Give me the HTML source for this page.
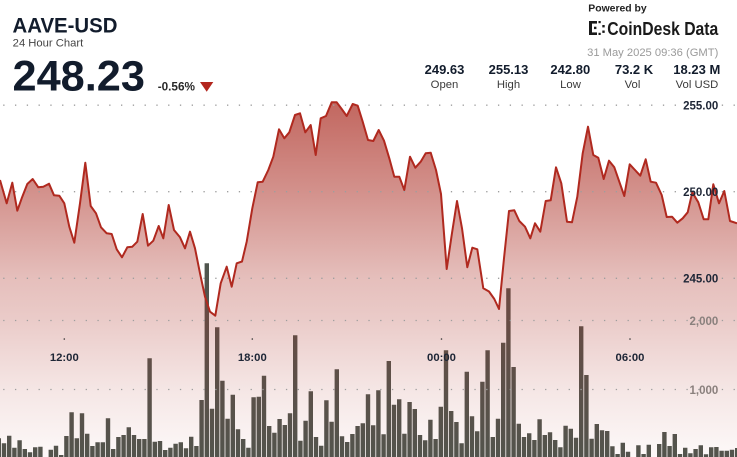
<!DOCTYPE html>
<html><head><meta charset="utf-8"><style>
html,body{margin:0;padding:0;background:#fff;width:737px;height:457px;overflow:hidden;}
svg{display:block;font-family:"Liberation Sans",Arial,sans-serif;}
</style></head><body>
<svg width="737" height="457" viewBox="0 0 737 457" xmlns="http://www.w3.org/2000/svg">
<defs>
<linearGradient id="fg" gradientUnits="userSpaceOnUse" x1="0" y1="100" x2="0" y2="457">
<stop offset="0" stop-color="rgb(172,48,38)" stop-opacity="0.74"/>
<stop offset="0.258" stop-color="rgb(172,48,38)" stop-opacity="0.53"/>
<stop offset="0.5" stop-color="rgb(172,48,38)" stop-opacity="0.31"/>
<stop offset="0.616" stop-color="rgb(172,48,38)" stop-opacity="0.25"/>
<stop offset="0.812" stop-color="rgb(172,48,38)" stop-opacity="0.12"/>
<stop offset="1" stop-color="rgb(172,48,38)" stop-opacity="0.03"/>
</linearGradient>
</defs>
<rect width="737" height="457" fill="#fff"/>

<path fill="#50554e" d="M0 438.3h1V457h-1z M1.8 443.3h4.4V457h-4.4z M7 435.7h4.4V457h-4.4z M12.2 447.7h4.4V457h-4.4z M17.4 440.3h4.4V457h-4.4z M22.6 449h4.4V457h-4.4z M27.8 452.3h4.4V457h-4.4z M33 447.3h4.4V457h-4.4z M38.2 446.7h4.4V457h-4.4z M48.6 449.7h4.4V457h-4.4z M53.8 445.7h4.4V457h-4.4z M59 455h4.4V457h-4.4z M64.2 436h4.4V457h-4.4z M69.4 412.3h4.4V457h-4.4z M74.6 438.3h4.4V457h-4.4z M79.8 413.3h4.4V457h-4.4z M85 433.7h4.4V457h-4.4z M90.2 446h4.4V457h-4.4z M95.4 442.3h4.4V457h-4.4z M100.6 442.3h4.4V457h-4.4z M105.8 418.3h4.4V457h-4.4z M111 449h4.4V457h-4.4z M116.2 437h4.4V457h-4.4z M121.4 435h4.4V457h-4.4z M126.6 427.3h4.4V457h-4.4z M131.8 435h4.4V457h-4.4z M137 439h4.4V457h-4.4z M142.2 439h4.4V457h-4.4z M147.4 358.3h4.4V457h-4.4z M152.6 441.7h4.4V457h-4.4z M157.8 441h4.4V457h-4.4z M163 450h4.4V457h-4.4z M168.2 447.7h4.4V457h-4.4z M173.4 443.7h4.4V457h-4.4z M178.6 442.3h4.4V457h-4.4z M183.8 448.3h4.4V457h-4.4z M189 436.7h4.4V457h-4.4z M194.2 446h4.4V457h-4.4z M199.4 400h4.4V457h-4.4z M204.6 263.3h4.4V457h-4.4z M209.8 408.7h4.4V457h-4.4z M215 327.3h4.4V457h-4.4z M220.2 380.7h4.4V457h-4.4z M225.4 418.7h4.4V457h-4.4z M230.6 394.7h4.4V457h-4.4z M235.8 429.3h4.4V457h-4.4z M241 439h4.4V457h-4.4z M246.2 447.7h4.4V457h-4.4z M251.4 397.3h4.4V457h-4.4z M256.6 396.7h4.4V457h-4.4z M261.8 375.7h4.4V457h-4.4z M267 426h4.4V457h-4.4z M272.2 432.7h4.4V457h-4.4z M277.4 419h4.4V457h-4.4z M282.6 425h4.4V457h-4.4z M287.8 413.3h4.4V457h-4.4z M293 335.3h4.4V457h-4.4z M298.2 440.7h4.4V457h-4.4z M303.4 420.7h4.4V457h-4.4z M308.6 391.3h4.4V457h-4.4z M313.8 437h4.4V457h-4.4z M319 445.7h4.4V457h-4.4z M324.2 400.3h4.4V457h-4.4z M329.4 421.7h4.4V457h-4.4z M334.6 369.3h4.4V457h-4.4z M339.8 436.3h4.4V457h-4.4z M345 442h4.4V457h-4.4z M350.2 434h4.4V457h-4.4z M355.4 426h4.4V457h-4.4z M360.6 423.3h4.4V457h-4.4z M365.8 394.3h4.4V457h-4.4z M371 425.3h4.4V457h-4.4z M376.2 390.3h4.4V457h-4.4z M381.4 434.3h4.4V457h-4.4z M386.6 361h4.4V457h-4.4z M391.8 404.7h4.4V457h-4.4z M397 399.3h4.4V457h-4.4z M402.2 433.7h4.4V457h-4.4z M407.4 402h4.4V457h-4.4z M412.6 409h4.4V457h-4.4z M417.8 435h4.4V457h-4.4z M423 440.3h4.4V457h-4.4z M428.2 419.7h4.4V457h-4.4z M433.4 439h4.4V457h-4.4z M438.6 406.7h4.4V457h-4.4z M443.8 350.3h4.4V457h-4.4z M449 411h4.4V457h-4.4z M454.2 422h4.4V457h-4.4z M459.4 443.3h4.4V457h-4.4z M464.6 371.7h4.4V457h-4.4z M469.8 416.3h4.4V457h-4.4z M475 431.3h4.4V457h-4.4z M480.2 381.7h4.4V457h-4.4z M485.4 350.3h4.4V457h-4.4z M490.6 437h4.4V457h-4.4z M495.8 418.7h4.4V457h-4.4z M501 342.7h4.4V457h-4.4z M506.2 288.3h4.4V457h-4.4z M511.4 367h4.4V457h-4.4z M516.6 423.7h4.4V457h-4.4z M521.8 437h4.4V457h-4.4z M527 433.3h4.4V457h-4.4z M532.2 440h4.4V457h-4.4z M537.4 419.3h4.4V457h-4.4z M542.6 435h4.4V457h-4.4z M547.8 432.3h4.4V457h-4.4z M553 440h4.4V457h-4.4z M558.2 447.3h4.4V457h-4.4z M563.4 425.7h4.4V457h-4.4z M568.6 428.7h4.4V457h-4.4z M573.8 437.7h4.4V457h-4.4z M579 326.3h4.4V457h-4.4z M584.2 375h4.4V457h-4.4z M589.4 438.7h4.4V457h-4.4z M594.6 424h4.4V457h-4.4z M599.8 430.3h4.4V457h-4.4z M605 431h4.4V457h-4.4z M610.2 446.3h4.4V457h-4.4z M615.4 454h4.4V457h-4.4z M620.6 442.7h4.4V457h-4.4z M625.8 451.7h4.4V457h-4.4z M636.2 445.3h4.4V457h-4.4z M641.4 454h4.4V457h-4.4z M646.6 444.7h4.4V457h-4.4z M657 444h4.4V457h-4.4z M662.2 432h4.4V457h-4.4z M667.4 446h4.4V457h-4.4z M672.6 434h4.4V457h-4.4z M677.8 454h4.4V457h-4.4z M683 447.7h4.4V457h-4.4z M688.2 453.3h4.4V457h-4.4z M693.4 449h4.4V457h-4.4z M698.6 445.3h4.4V457h-4.4z M703.8 454.3h4.4V457h-4.4z M709 447.3h4.4V457h-4.4z M714.2 447h4.4V457h-4.4z M719.4 450.7h4.4V457h-4.4z M724.6 450.7h4.4V457h-4.4z M729.8 449.7h4.4V457h-4.4z M735 448h2V457h-2z"/>

<path fill="url(#fg)" d="M0,180 L6.7,203.3 L12.3,182.7 L17.3,210.7 L21.7,198.3 L27.3,184 L32.7,179 L38.3,187.3 L43.3,186.7 L49,183.7 L54,195.3 L59.3,195.7 L64.3,203.3 L69.3,226.7 L74.3,242.7 L80,203.3 L85.3,162.7 L90.7,206 L96,213.3 L101,227.3 L106.7,233.3 L111.7,234 L116.7,249.3 L122,257.3 L127.3,247.3 L132.3,246.7 L137.3,241.7 L142.7,214 L148,245.7 L153.3,240.7 L158.7,226 L163.3,238.3 L168.7,205 L174,230 L180,237.3 L185,248.3 L190,231.7 L195,248.3 L200,273.3 L205,296.7 L210,311.7 L215.3,315.7 L220.7,283.3 L226.7,266.7 L231.7,286.7 L236.7,263.3 L242,261.5 L246.7,241.7 L252.3,208.3 L257.7,182.3 L262.7,181.7 L268.3,170 L273.3,156.7 L279,129.3 L284.3,138.3 L289.3,132.3 L295,115 L300,113.3 L305.3,132.3 L310.7,125 L315.7,155 L320.7,118.3 L326,116 L331.7,102.3 L336.7,102.3 L341.7,109 L346.7,116 L352.7,104 L357.7,105.7 L362.7,121.7 L368,140 L373.3,141 L378.7,130 L384,140.7 L389.3,158.3 L394.3,176.7 L399.3,176.7 L404.3,190 L410,156.7 L415.3,167.7 L420.7,161.7 L425.7,153.3 L430.7,152.7 L436,170 L441,194 L446.7,269 L451.7,235 L457,201 L462,228.3 L467.3,267.3 L472.3,247.7 L477.3,249.3 L483.3,288.3 L489,291.5 L494.3,299 L499,309 L504,258.3 L509,211 L514.3,210.3 L519.3,221 L525,226.7 L530.3,238.3 L535,223.3 L540.3,231.7 L545.7,201 L550.7,200.3 L556,167.3 L561.3,183.3 L567,221.7 L572,222.3 L577.3,196.7 L582.7,153.3 L588,126.7 L593.3,155 L598.3,157.7 L603.7,179 L609,160.7 L614.3,167.3 L619.3,181.7 L624.3,196 L629.7,164.3 L635,170 L640.3,175.7 L645.7,159.3 L650.7,181.7 L656,182.7 L661.7,195 L666.7,217 L672,216.7 L677.3,222.7 L682.7,218.3 L687.7,212.3 L692.3,192.3 L698.3,202.3 L703.7,219.3 L708.3,219.3 L713.3,184.3 L719,203.3 L724.3,191 L730,221 L737,223.3 L737,457 L0,457 Z"/>

<g stroke="#9e9e9e" stroke-width="1.3" stroke-dasharray="1.3 10.48" fill="none">
<line x1="3.2" y1="105.2" x2="737" y2="105.2"/>
<line x1="3.2" y1="191.7" x2="737" y2="191.7"/>
<line x1="3.2" y1="278.3" x2="737" y2="278.3"/>
<line x1="3.2" y1="320.5" x2="737" y2="320.5"/>
<line x1="3.2" y1="389.5" x2="737" y2="389.5"/>
</g>

<path fill="none" stroke="#b0291f" stroke-width="2" stroke-linejoin="round" d="M0,180 L6.7,203.3 L12.3,182.7 L17.3,210.7 L21.7,198.3 L27.3,184 L32.7,179 L38.3,187.3 L43.3,186.7 L49,183.7 L54,195.3 L59.3,195.7 L64.3,203.3 L69.3,226.7 L74.3,242.7 L80,203.3 L85.3,162.7 L90.7,206 L96,213.3 L101,227.3 L106.7,233.3 L111.7,234 L116.7,249.3 L122,257.3 L127.3,247.3 L132.3,246.7 L137.3,241.7 L142.7,214 L148,245.7 L153.3,240.7 L158.7,226 L163.3,238.3 L168.7,205 L174,230 L180,237.3 L185,248.3 L190,231.7 L195,248.3 L200,273.3 L205,296.7 L210,311.7 L215.3,315.7 L220.7,283.3 L226.7,266.7 L231.7,286.7 L236.7,263.3 L242,261.5 L246.7,241.7 L252.3,208.3 L257.7,182.3 L262.7,181.7 L268.3,170 L273.3,156.7 L279,129.3 L284.3,138.3 L289.3,132.3 L295,115 L300,113.3 L305.3,132.3 L310.7,125 L315.7,155 L320.7,118.3 L326,116 L331.7,102.3 L336.7,102.3 L341.7,109 L346.7,116 L352.7,104 L357.7,105.7 L362.7,121.7 L368,140 L373.3,141 L378.7,130 L384,140.7 L389.3,158.3 L394.3,176.7 L399.3,176.7 L404.3,190 L410,156.7 L415.3,167.7 L420.7,161.7 L425.7,153.3 L430.7,152.7 L436,170 L441,194 L446.7,269 L451.7,235 L457,201 L462,228.3 L467.3,267.3 L472.3,247.7 L477.3,249.3 L483.3,288.3 L489,291.5 L494.3,299 L499,309 L504,258.3 L509,211 L514.3,210.3 L519.3,221 L525,226.7 L530.3,238.3 L535,223.3 L540.3,231.7 L545.7,201 L550.7,200.3 L556,167.3 L561.3,183.3 L567,221.7 L572,222.3 L577.3,196.7 L582.7,153.3 L588,126.7 L593.3,155 L598.3,157.7 L603.7,179 L609,160.7 L614.3,167.3 L619.3,181.7 L624.3,196 L629.7,164.3 L635,170 L640.3,175.7 L645.7,159.3 L650.7,181.7 L656,182.7 L661.7,195 L666.7,217 L672,216.7 L677.3,222.7 L682.7,218.3 L687.7,212.3 L692.3,192.3 L698.3,202.3 L703.7,219.3 L708.3,219.3 L713.3,184.3 L719,203.3 L724.3,191 L730,221 L737,223.3"/>

<g font-size="11.5" font-weight="bold" fill="#1e2636" text-anchor="end">
<text x="718.3" y="109.4">255.00</text>
<text x="718.3" y="196">250.00</text>
<text x="718.3" y="282.5">245.00</text>
</g>
<g font-size="11.5" font-weight="bold" fill="#8a807d" text-anchor="end">
<text x="718.3" y="324.8">2,000</text>
<text x="718.3" y="393.8">1,000</text>
</g>

<g fill="#333">
<circle cx="64.3" cy="339" r="0.8"/>
<circle cx="252.3" cy="339" r="0.8"/>
<circle cx="441.5" cy="339" r="0.8"/>
<circle cx="630" cy="339" r="0.8"/>
</g>
<g font-size="11.3" font-weight="bold" fill="#1e2636" text-anchor="middle">
<text x="64.3" y="361">12:00</text>
<text x="252.3" y="361">18:00</text>
<text x="441.5" y="361">00:00</text>
<text x="630" y="361">06:00</text>
</g>

<text x="12.5" y="32.3" font-size="21.5" font-weight="bold" fill="#121c2c" textLength="105" lengthAdjust="spacingAndGlyphs">AAVE-USD</text>
<text x="12.7" y="46.7" font-size="11" fill="#444" textLength="70.6" lengthAdjust="spacingAndGlyphs">24 Hour Chart</text>
<text x="12.5" y="90.7" font-size="43" font-weight="bold" fill="#121c2c" textLength="132.5" lengthAdjust="spacingAndGlyphs">248.23</text>
<text x="157.7" y="90.5" font-size="12" font-weight="bold" fill="#2a2a2a" textLength="37.3" lengthAdjust="spacingAndGlyphs">-0.56%</text>
<polygon points="200,82 213.3,82 206.7,91.7" fill="#b3261e"/>

<text x="588.3" y="11.7" font-size="10.4" font-weight="bold" fill="#222" textLength="58.4" lengthAdjust="spacingAndGlyphs">Powered by</text>
<g fill="#1a1a1a">
<rect x="589" y="21" width="3" height="14"/>
<rect x="592" y="21" width="5" height="2.6"/>
<rect x="592" y="32.4" width="5" height="2.6"/>
<rect x="594" y="26.7" width="2.4" height="2.4"/>
<rect x="598.5" y="21" width="2.2" height="2.2"/>
<rect x="598.5" y="32.8" width="2.2" height="2.2"/>
<rect x="602.3" y="25" width="2.4" height="2.4"/>
<rect x="602.3" y="30.5" width="2.4" height="2.4"/>
</g>
<text x="607.3" y="34.8" font-size="18" font-weight="bold" fill="#1a1a1a" textLength="111" lengthAdjust="spacingAndGlyphs">CoinDesk Data</text>
<text x="718.3" y="56" font-size="11.2" fill="#9a9a9a" text-anchor="end">31 May 2025 09:36 (GMT)</text>

<g font-size="13" font-weight="bold" fill="#121c2c" text-anchor="middle">
<text x="444.5" y="74">249.63</text>
<text x="508.5" y="74">255.13</text>
<text x="570.3" y="74">242.80</text>
<text x="634" y="74">73.2 K</text>
<text x="696.8" y="74">18.23 M</text>
</g>
<g font-size="11.3" fill="#3a3a3a" text-anchor="middle">
<text x="444.5" y="88">Open</text>
<text x="508.5" y="88">High</text>
<text x="570.5" y="88">Low</text>
<text x="632.5" y="88">Vol</text>
<text x="697" y="88">Vol USD</text>
</g>
</svg>
</body></html>
